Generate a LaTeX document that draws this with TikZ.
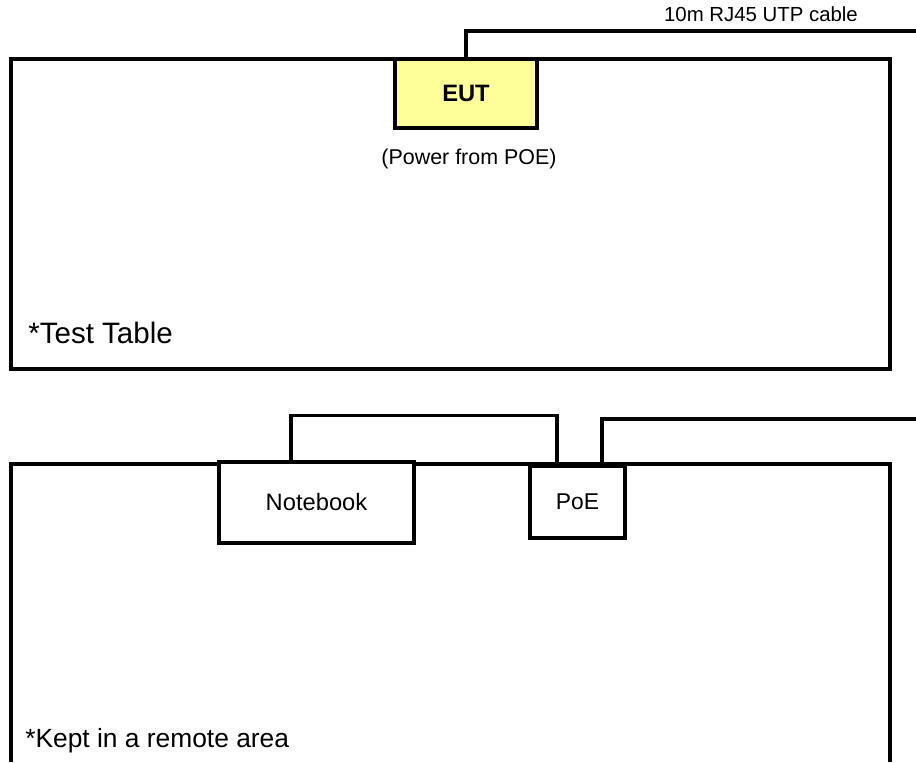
\documentclass[tikz,border=0pt]{standalone}
\usepackage{fontspec}
\setmainfont{Liberation Sans}
\usetikzlibrary{positioning}
\definecolor{eutfill}{RGB}{255,255,153}
\tikzset{
  TB/.style={draw=black, line width=1.9pt},
  DEV/.style={draw=black, line width=1.9pt, inner sep=0pt},
  CB/.style={draw=black, line width=1.9pt},
  TX/.style={inner sep=0pt},
}

\begin{document}
\begin{tikzpicture}[x=0.02cm, y=-0.02cm]
\useasboundingbox (0,0) rectangle (916,762);

%% ================================================================
%%  TEST TABLE
%% ================================================================
\draw[TB] (11,59) rectangle (890,369);
\node[TX, anchor=west, font=\fontsize{16.8}{19}\selectfont] (tt) at (28,333) {*Test Table};

% equipment under test
\node[DEV, fill=eutfill, minimum width=2.84cm, minimum height=1.38cm,
      font=\fontsize{13.5}{16}\selectfont\bfseries] (eut) at (466,93.5) {EUT};
\node[TX, font=\fontsize{12.2}{14}\selectfont] (pwr) at (469,159) {(Power from POE)};

% cable to the remote area
\coordinate (eutend) at (916,31);
\draw[CB] (eut.north) |- (eutend);
\node[TX, font=\fontsize{11.6}{13}\selectfont] (cbl) at (761,14) {10m RJ45 UTP cable};

%% ================================================================
%%  REMOTE AREA
%% ================================================================
\draw[TB] (11,762) -- (11,464) -- (890,464) -- (890,762);
\node[TX, anchor=west, font=\fontsize{15}{17}\selectfont] (ra) at (25,741) {*Kept in a remote area};

\node[DEV, fill=white, minimum width=3.9cm, minimum height=1.62cm,
      font=\fontsize{13.5}{16}\selectfont] (nb) at (316.5,502.5) {Notebook};
\node[DEV, fill=white, minimum width=1.9cm, minimum height=1.44cm,
      font=\fontsize{13}{16}\selectfont] (poe) at (577.5,502) {PoE};

% notebook to PoE
\draw[CB] ([xshift=-0.51cm]nb.north) -- ++(0,-45) -| ([xshift=-0.41cm]poe.north);

% PoE to EUT
\coordinate (poeend) at (916,419);
\draw[CB] ([xshift=0.49cm]poe.north) |- (poeend);

\end{tikzpicture}
\end{document}
